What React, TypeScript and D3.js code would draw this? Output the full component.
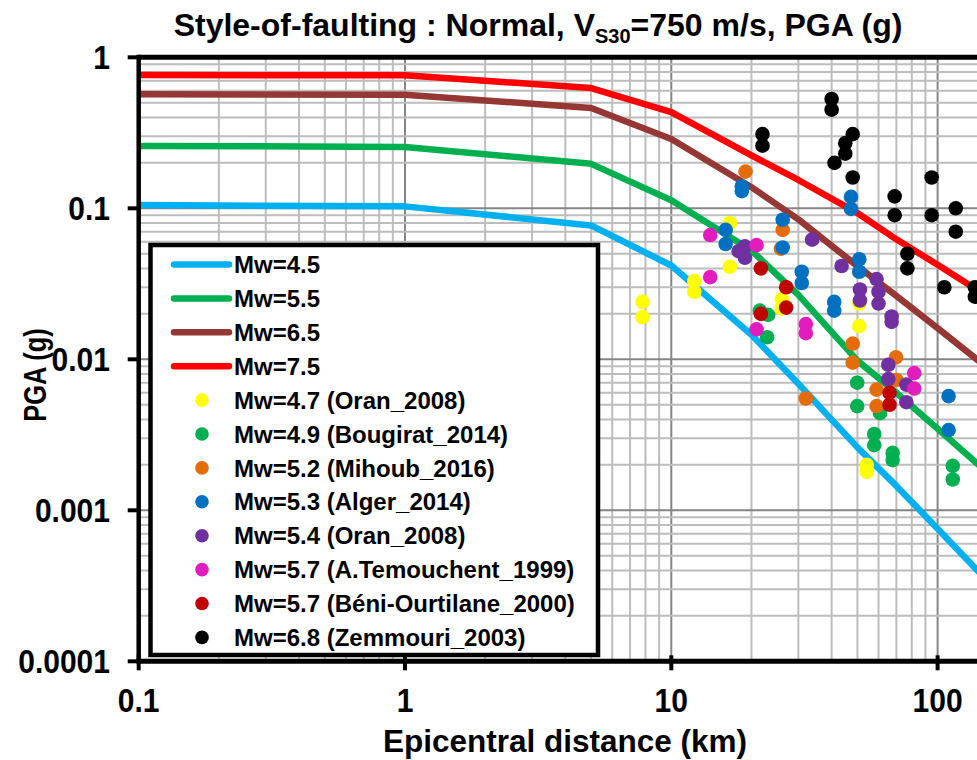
import React, { useMemo } from 'react';
import * as d3 from 'd3';

// axis ticks
const X_TICKS = [0.1, 1, 10, 100];
const X_TICK_LABELS = ['0.1', '1', '10', '100'];
const Y_TICKS = [1, 0.1, 0.01, 0.001, 0.0001];
const Y_TICK_LABELS = ['1', '0.1', '0.01', '0.001', '0.0001'];

// model curves (PGA in g vs epicentral distance in km)
const CURVE_DIST = [0.1, 1, 5, 10, 20, 30, 50, 70, 100, 150];
const PGA_MW45 = [0.105, 0.103, 0.077, 0.0418, 0.01455, 0.0069, 0.00261, 0.00145, 0.000756, 0.000357];
const PGA_MW55 = [0.259, 0.255, 0.197, 0.113, 0.0526, 0.0267, 0.0098, 0.006, 0.00347, 0.00185];
const PGA_MW65 = [0.569, 0.565, 0.462, 0.288, 0.138, 0.0845, 0.0414, 0.0263, 0.0161, 0.0091];
const PGA_MW75 = [0.763, 0.76, 0.626, 0.434, 0.224, 0.154, 0.093, 0.0623, 0.0423, 0.0268];

// recorded data: [distance km, PGA g]
type Pt = [number, number];
const ORAN_2008_47: Pt[] = [
  [16.6, 0.08], [16.6, 0.041], [12.2, 0.033], [12.2, 0.028], [7.8, 0.024], [7.8, 0.019],
  [26, 0.025], [26, 0.0217], [50.8, 0.0234], [50.8, 0.0166], [54.2, 0.002], [54.2, 0.0018],
];
const BOUGIRAT_2014: Pt[] = [
  [21.5, 0.021], [23.1, 0.0197], [22.9, 0.014], [49.9, 0.007], [49.9, 0.0049], [60.8, 0.0044],
  [57.8, 0.0032], [57.8, 0.0027], [67.8, 0.0024], [67.8, 0.00215], [114, 0.00197], [114, 0.0016],
];
const MIHOUB_2016: Pt[] = [
  [19, 0.175], [26.2, 0.072], [25.8, 0.054], [48, 0.0127], [48, 0.0095], [69.8, 0.0103],
  [70, 0.0073], [32, 0.0055], [59, 0.0063], [59, 0.0049],
];
const ALGER_2014: Pt[] = [
  [18.4, 0.14], [18.4, 0.13], [16, 0.072], [16, 0.058], [26.2, 0.084], [26.2, 0.055],
  [47.3, 0.119], [47.3, 0.099], [30.9, 0.038], [30.9, 0.032], [50.8, 0.046], [50.8, 0.038],
  [40.9, 0.024], [40.9, 0.021], [110, 0.0057], [110, 0.0034],
];
const ORAN_2008_54: Pt[] = [
  [17.9, 0.052], [18.9, 0.056], [18.9, 0.047], [33.8, 0.062], [43.6, 0.0415], [51.1, 0.029],
  [51.1, 0.0245], [59, 0.034], [60, 0.028], [60, 0.0234], [67.2, 0.0192], [67.2, 0.0177],
  [65.3, 0.0092], [65.3, 0.0074], [76.3, 0.0068], [76.3, 0.0052],
];
const TEMOUCHENT_1999: Pt[] = [
  [14, 0.0665], [20.9, 0.057], [14, 0.035], [32, 0.0171], [32, 0.0149], [20.9, 0.0158],
  [81.7, 0.0081], [81.7, 0.0064],
];
const BENI_OURTILANE_2000: Pt[] = [
  [21.7, 0.04], [27, 0.03], [27, 0.022], [21.7, 0.02], [66, 0.006], [66, 0.005],
];
const ZEMMOURI_2003: Pt[] = [
  [22, 0.31], [22, 0.26], [40, 0.53], [40, 0.45], [48, 0.31], [45, 0.27], [45, 0.23],
  [41, 0.2], [48, 0.16], [69, 0.12], [69, 0.09], [95, 0.16], [95, 0.09], [117, 0.1],
  [117, 0.07], [77, 0.05], [77, 0.04], [106, 0.03], [138, 0.03], [138, 0.026],
];

const CURVES = [
  { label: 'Mw=4.5', color: '#00B0F0', values: PGA_MW45 },
  { label: 'Mw=5.5', color: '#00B050', values: PGA_MW55 },
  { label: 'Mw=6.5', color: '#953735', values: PGA_MW65 },
  { label: 'Mw=7.5', color: '#FF0000', values: PGA_MW75 },
];

const SCATTERS = [
  { label: 'Mw=4.7 (Oran_2008)', color: '#FFFF00', points: ORAN_2008_47 },
  { label: 'Mw=4.9 (Bougirat_2014)', color: '#00B050', points: BOUGIRAT_2014 },
  { label: 'Mw=5.2 (Mihoub_2016)', color: '#E46C0A', points: MIHOUB_2016 },
  { label: 'Mw=5.3 (Alger_2014)', color: '#0070C0', points: ALGER_2014 },
  { label: 'Mw=5.4 (Oran_2008)', color: '#7030A0', points: ORAN_2008_54 },
  { label: 'Mw=5.7 (A.Temouchent_1999)', color: '#E31CBD', points: TEMOUCHENT_1999 },
  { label: 'Mw=5.7 (Béni-Ourtilane_2000)', color: '#C00000', points: BENI_OURTILANE_2000 },
  { label: 'Mw=6.8 (Zemmouri_2003)', color: '#000000', points: ZEMMOURI_2003 },
];

const FONT = '"Liberation Sans", Arial, sans-serif';
// tick labels in the source are a touch narrower than Arial
const TICK_SX = 0.91;

export default function App() {
  const width = 977;
  const height = 760;

  // plot frame
  const left = 138.7;
  const top = 57.3;
  const bottom = 661.3;
  const decadeX = 266.3;

  const x = d3.scaleLog().domain([0.1, 1000]).range([left, left + decadeX * 4]);
  const y = d3.scaleLog().domain([0.0001, 1]).range([bottom, top]);

  // minor / major grid values (2..9 per decade)
  const grid = useMemo(() => {
    const xs: { v: number; major: boolean }[] = [];
    [0.1, 1, 10, 100, 1000].forEach((d) => {
      for (let k = 1; k <= 9; k++) xs.push({ v: d * k, major: k === 1 });
    });
    const ys: { v: number; major: boolean }[] = [];
    [0.0001, 0.001, 0.01, 0.1].forEach((d) => {
      for (let k = 1; k <= 9; k++) ys.push({ v: d * k, major: k === 1 });
    });
    ys.push({ v: 1, major: true });
    return { xs, ys };
  }, []);

  const line = d3
    .line<number>()
    .x((_, i) => x(CURVE_DIST[i]))
    .y((d) => y(d));

  // legend layout
  const lg = { x: 150.5, y: 245, w: 447.5, h: 410, row0: 264.5, rowH: 33.9 };
  const legendItems = [
    ...CURVES.map((c) => ({ label: c.label, color: c.color, kind: 'line' })),
    ...SCATTERS.map((s) => ({ label: s.label, color: s.color, kind: 'dot' })),
  ];

  return (
    <svg
      width={width}
      height={height}
      style={{ position: 'absolute', left: 0, top: 0, background: '#fff' }}
      fontFamily={FONT}
      fontWeight="bold">
      <defs>
        <clipPath id="plot-clip">
          <rect x={left} y={top} width={width - left} height={bottom - top} />
        </clipPath>
      </defs>

      {/* title */}
      <text x={538} y={36} textAnchor="middle" fontSize={32}>
        <tspan>Style-of-faulting : Normal, V</tspan>
        <tspan dy={7} fontSize={20}>S30</tspan>
        <tspan dy={-7}>=750 m/s, PGA (g)</tspan>
      </text>

      {/* grid */}
      <g clipPath="url(#plot-clip)">
        {grid.xs.map((g) => (
          <line
            key={`gx${g.v}`}
            x1={x(g.v)}
            x2={x(g.v)}
            y1={top}
            y2={bottom}
            stroke={g.major ? '#858585' : '#BDBDBD'}
            strokeWidth={2}
          />
        ))}
        {grid.ys.map((g) => (
          <line
            key={`gy${g.v}`}
            x1={left}
            x2={width}
            y1={y(g.v)}
            y2={y(g.v)}
            stroke={g.major ? '#858585' : '#BDBDBD'}
            strokeWidth={2}
          />
        ))}

        {/* model curves */}
        {CURVES.map((c) => (
          <path
            key={c.label}
            d={line(c.values) as string}
            fill="none"
            stroke={c.color}
            strokeWidth={6.5}
            strokeLinejoin="round"
          />
        ))}

        {/* recorded PGA */}
        {SCATTERS.map((s) => (
          <g key={s.label} fill={s.color}>
            {s.points.map((p, i) => (
              <circle key={i} cx={x(p[0])} cy={y(p[1])} r={7.3} />
            ))}
          </g>
        ))}
      </g>

      {/* frame */}
      <line x1={left} x2={width} y1={top} y2={top} stroke="#000" strokeWidth={5} />
      <line x1={left} x2={width} y1={bottom} y2={bottom} stroke="#000" strokeWidth={5} />
      <line x1={left} x2={left} y1={top - 2.5} y2={bottom + 2.5} stroke="#000" strokeWidth={4.5} />

      {/* y ticks */}
      {Y_TICKS.map((t, i) => (
        <g key={`yt${t}`}>
          <line x1={left - 11} x2={left} y1={y(t)} y2={y(t)} stroke="#000" strokeWidth={4} />
          <text
            transform={`translate(110,${y(t)}) scale(${TICK_SX},1)`}
            dy="0.36em"
            textAnchor="end"
            fontSize={33}>
            {Y_TICK_LABELS[i]}
          </text>
        </g>
      ))}

      {/* x ticks */}
      {X_TICKS.map((t, i) => (
        <g key={`xt${t}`}>
          <line x1={x(t)} x2={x(t)} y1={bottom - 6} y2={bottom + 9} stroke="#000" strokeWidth={4} />
          <text
            transform={`translate(${x(t)},700) scale(${TICK_SX},1)`}
            dy="0.36em"
            textAnchor="middle"
            fontSize={33}>
            {X_TICK_LABELS[i]}
          </text>
        </g>
      ))}

      {/* axis titles */}
      <text x={565} y={752} textAnchor="middle" fontSize={31.5}>
        Epicentral distance (km)
      </text>
      <text transform="translate(46,375) rotate(-90) scale(0.82,1)" textAnchor="middle" fontSize={31}>
        PGA (g)
      </text>

      {/* legend */}
      <rect x={lg.x} y={lg.y} width={lg.w} height={lg.h} fill="#fff" stroke="#000" strokeWidth={4.5} />
      {legendItems.map((it, i) => {
        const cy = lg.row0 + i * lg.rowH;
        return (
          <g key={it.label}>
            {it.kind === 'line' ? (
              <line x1={174} x2={229} y1={cy} y2={cy} stroke={it.color} strokeWidth={6.5} strokeLinecap="round" />
            ) : (
              <circle cx={202} cy={cy} r={6.8} fill={it.color} />
            )}
            <text x={234} y={cy} dy="0.36em" fontSize={24}>
              {it.label}
            </text>
          </g>
        );
      })}
    </svg>
  );
}
